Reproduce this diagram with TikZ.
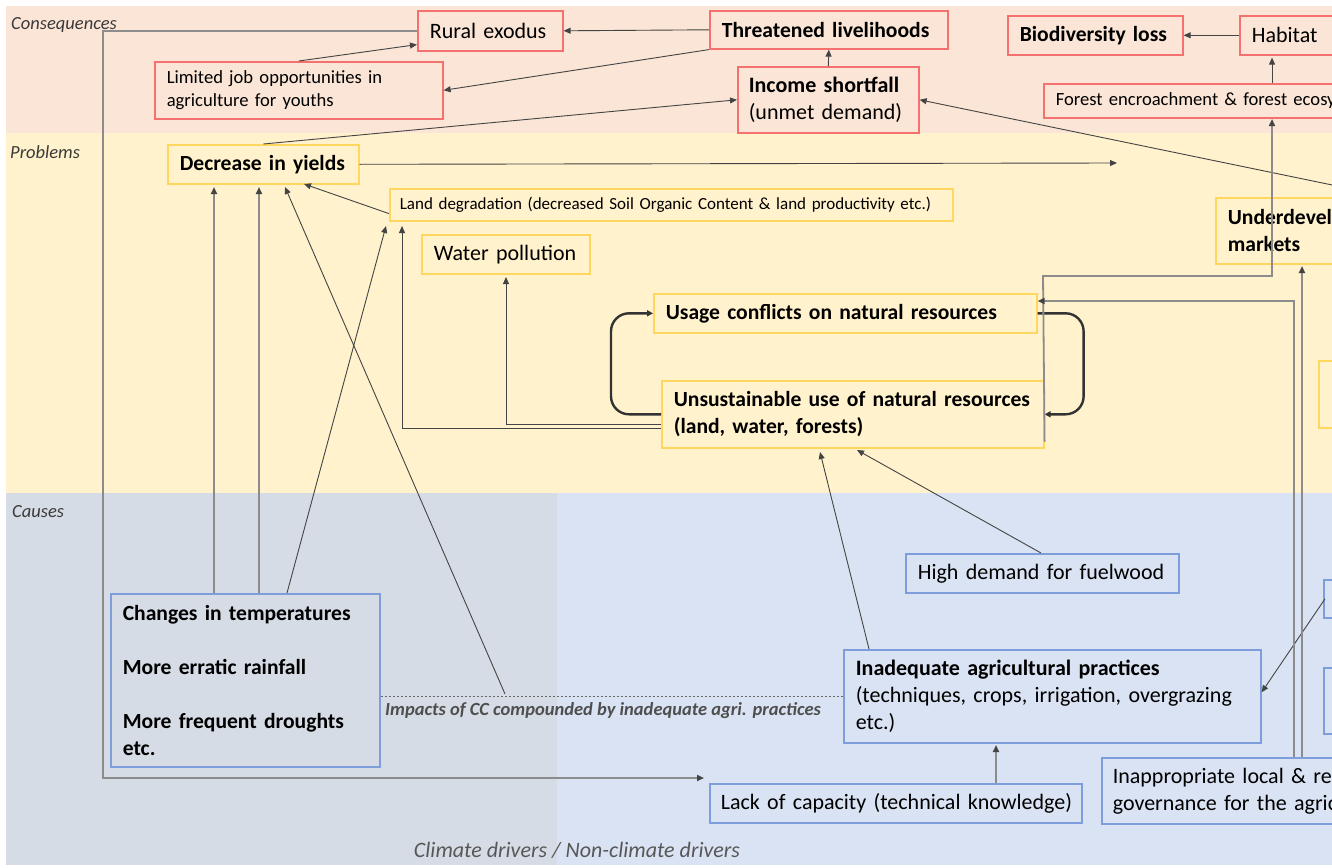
\documentclass[tikz,border=0pt]{standalone}
\usepackage{fontspec}
\setmainfont{Carlito}
\usetikzlibrary{arrows.meta,calc}
\definecolor{bgcons}{HTML}{FBE5D6}
\definecolor{bgprob}{HTML}{FFF2CC}
\definecolor{bgcause}{HTML}{DAE3F3}
\definecolor{bgclim}{HTML}{D6DCE5}
\definecolor{redb}{HTML}{F4716F}
\definecolor{yelb}{HTML}{FFD75E}
\definecolor{blueb}{HTML}{7E9DDB}
\definecolor{lnk}{HTML}{444444}
\definecolor{lnkg}{HTML}{8C8C8C}
\definecolor{loopc}{HTML}{333333}
\definecolor{lab}{HTML}{3A3A3A}
\tikzset{
  box/.style={anchor=north west, line width=1.6pt, inner xsep=12pt, inner ysep=0pt,
    align=left, font=\fontsize{22}{27}\selectfont, text=black},
  bbox/.style={font=\fontsize{21.6}{27}\selectfont\bfseries},
  cbox/.style={box, draw=redb},
  pbox/.style={box, draw=yelb},
  kbox/.style={box, draw=blueb},
  arr/.style={draw=lnk, line width=0.9pt, -{Triangle[length=7pt,width=6pt,color=lnk]}},
  arrg/.style={draw=lnkg, line width=1.8pt, -{Triangle[length=7pt,width=6pt,color=lnk]}},
  loopar/.style={draw=loopc, line width=2.4pt, rounded corners=18pt, -{Triangle[length=6pt,width=6pt]}},
  dots/.style={draw=lnk!80, line width=0.8pt, dash pattern=on 2pt off 2pt},
  band/.style={font=\fontsize{18.5}{22}\selectfont\itshape, anchor=west, inner sep=0pt, text=lab},
}
\begin{document}
\begin{tikzpicture}[x=1pt,y=-1pt]
\useasboundingbox (0,0) rectangle (1332,867);
\clip (0,0) rectangle (1332,867);
% backgrounds
\fill[white] (0,0) rectangle (1332,867);
\fill[bgcons] (6,6) rectangle (1332,133);
\fill[bgprob] (6,133) rectangle (1332,493);
\fill[bgcause] (6,493) rectangle (1332,865);
\fill[bgclim] (6,493) rectangle (557,865);
% band labels
\node[band] (lcons) at (11,25) {Consequences};
\node[band] (lprob) at (10,152) {Problems};
\node[band] (lcaus) at (12,512) {Causes};
\node[font=\fontsize{22}{26}\selectfont\itshape, text=lab!85, inner sep=0pt] (ldrv) at (577,850) {Climate drivers / Non-climate drivers};
% consequences
\node[cbox, minimum width=145pt, minimum height=40pt, text width=121pt] (rural) at (417,10) {\mbox{Rural exodus}};
\node[cbox, bbox, minimum width=238pt, minimum height=38pt, text width=214pt] (threat) at (709,10) {\mbox{Threatened livelihoods}};
\node[cbox, minimum width=288pt, minimum height=57pt, text width=264pt, font=\fontsize{18.6}{23}\selectfont] (limited) at (154,61) {\mbox{Limited job opportunities in}\\\mbox{agriculture for youths}};
\node[cbox, minimum width=181pt, minimum height=66pt, text width=159pt, inner xsep=11pt] (income) at (737,66) {\mbox{\textbf{Income shortfall}}\\\mbox{(unmet demand)}};
\node[cbox, bbox, minimum width=175pt, minimum height=39pt, text width=151pt] (biodiv) at (1007,15) {\mbox{Biodiversity loss}};
\node[cbox, minimum width=200pt, minimum height=39pt, text width=176pt] (habitat) at (1239,15) {\mbox{Habitat~~loss}};
\node[cbox, minimum width=500pt, minimum height=34pt, text width=476pt, font=\fontsize{18.6}{22}\selectfont] (forest) at (1043,83) {\mbox{Forest encroachment \& forest ecosystem degradation}};
% problems
\node[pbox, bbox, minimum width=191pt, minimum height=39pt, text width=167pt] (decrease) at (167,144) {\mbox{Decrease in yields}};
\node[pbox, minimum width=563pt, minimum height=32pt, text width=543pt, inner xsep=10pt, font=\fontsize{17}{20}\selectfont] (landdeg) at (389,188) {\mbox{Land degradation (decreased Soil Organic Content \& land productivity etc.)}};
\node[pbox, minimum width=168pt, minimum height=39pt, text width=144pt] (water) at (421,234) {\mbox{Water pollution}};
\node[pbox, bbox, minimum width=383pt, minimum height=39pt, text width=359pt] (usage) at (653,293) {\mbox{Usage conflicts on natural resources}};
\node[pbox, bbox, minimum width=382pt, minimum height=67pt, text width=358pt] (unsust) at (661,380) {\mbox{Unsustainable use of natural resources}\\\mbox{(land, water, forests)}};
\node[pbox, bbox, minimum width=200pt, minimum height=66pt, text width=176pt] (underdev) at (1215,197) {\mbox{Underdeveloped}\\\mbox{markets}};
\node[pbox, minimum width=100pt, minimum height=67pt] (ypart) at (1318,360) {};
% causes
\node[kbox, bbox, minimum width=269pt, minimum height=173pt, text width=245pt] (climate) at (110,593) {\mbox{Changes in temperatures}\\[27pt]\mbox{More erratic rainfall}\\[27pt]\mbox{More frequent droughts}\\\mbox{etc.}};
\node[kbox, minimum width=273pt, minimum height=39pt, text width=249pt] (high) at (905,553) {\mbox{High demand for fuelwood}};
\node[kbox, minimum width=417pt, minimum height=93pt, text width=393pt] (inadequate) at (843,649) {\mbox{\textbf{Inadequate agricultural practices}}\\\mbox{(techniques, crops, irrigation, overgrazing}\\\mbox{etc.)}};
\node[kbox, minimum width=372pt, minimum height=39pt, text width=350pt, inner xsep=11pt] (lack) at (709,783) {\mbox{Lack of capacity (technical knowledge)}};
\node[kbox, minimum width=350pt, minimum height=66pt, text width=328pt, inner xsep=11pt] (inapprop) at (1101,757) {\mbox{Inappropriate local \& regional}\\\mbox{governance for the agricultural sector}};
\node[kbox, minimum width=100pt, minimum height=38pt] (bpart1) at (1323,579) {};
\node[kbox, minimum width=100pt, minimum height=66pt] (bpart2) at (1323,667) {};
% free coordinates
\coordinate (dA) at (214,187);
\coordinate (dB) at (259,187);
\coordinate (dC) at (285,187);
\coordinate (dD) at (304,184);
\coordinate (lA) at (386,226);
\coordinate (lB) at (402,226);
\coordinate (wA) at (506,277);
\coordinate (junc) at (505,694);
\coordinate (yEnd) at (1117,163);
\coordinate (mkt) at (1400,199);
\coordinate (ucA) at (820,452);
\coordinate (ucB) at (857,450);
\coordinate (iaB) at (996,745);
\coordinate (c2) at (103,778);
\coordinate (lackIn) at (704,778);
\coordinate (udIn) at (1302,266);
\coordinate (fk1) at (1043,276);
\coordinate (fk2) at (1272,276);
\coordinate (fIn) at (1272,119);
% consequence links
\draw[arr] (threat.west) -- (rural.east);
\draw[arr] (threat.south west) -- (limited.east);
\draw[arr] (limited.north) -- ($(rural.south west)+(0,-7)$);
\draw[arr] (income.north) -- (threat.south);
\draw[arr] (decrease.north) -- (income.west);
\draw[arr] (mkt) -- (income.east);
\draw[arr] (habitat.west) -- (biodiv.east);
\draw[arr] (forest.north -| fIn) -- ($(habitat.south west)+(33,2)$);
% problems links
\draw[arr] (decrease.east) -- (yEnd);
\draw[arr] ($(landdeg.south west)+(0,-8)$) -- (dD);
\draw[arr] ($(unsust.west)+(0,14)$) -| (lB);
\draw[arr] ($(unsust.west)+(0,10)$) -| (wA);
\draw[loopar] (usage.east) -- ++(46,0) |- (unsust.east);
\draw[loopar] (unsust.west) -- ++(-50,0) |- (usage.west);
\draw[arrg] ($(unsust.south east)+(0,-7)$) -- (fk1) -- (fk2) -- (fIn);
% causes links
\draw[arrg] (climate.north -| dA) -- (dA);
\draw[arrg] (climate.north -| dB) -- (dB);
\draw[arr] ($(climate.north west)+(177,0)$) -- (lA);
\draw[arr] (junc) -- (dC);
\draw[dots] (climate.east |- inadequate.west) -- (inadequate.west);
\node[font=\fontsize{18.5}{22}\selectfont\itshape\bfseries, text=lab!90, anchor=west, inner sep=0pt] (cclab) at (385,711) {Impacts of CC compounded by inadequate agri. practices};
\draw[arr] ($(inadequate.north west)+(26,0)$) -- (ucA);
\draw[arr] ($(high.north west)+(136,0)$) -- (ucB);
\draw[arrg] (lack.north -| iaB) -- (iaB);
\draw[arrg] (rural.west) -| (c2) -- (lackIn);
\draw[arr] ($(bpart1.west)+(2,0)$) -- ($(inadequate.east)+(0,-4)$);
\draw[arrg] ($(inapprop.north west)+(193,0)$) |- ($(usage.north east)+(0,8)$);
\draw[arrg] ($(inapprop.north west)+(201,0)$) -- (udIn);
\end{tikzpicture}
\end{document}
